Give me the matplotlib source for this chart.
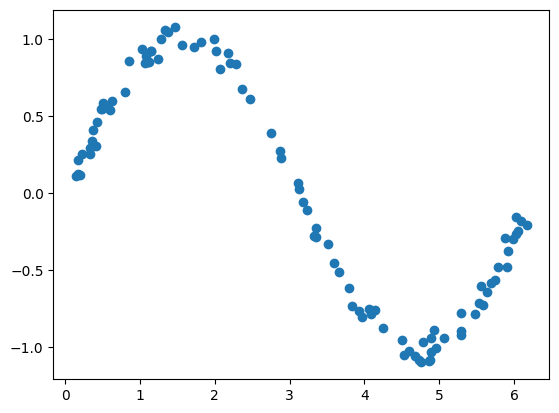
import matplotlib
matplotlib.use("Agg")
import matplotlib.pyplot as plt

# noisy sine samples
x = [0.143, 0.174, 0.196, 0.174, 0.219, 0.33, 0.334, 0.36, 0.41, 0.374,
     0.427, 0.477, 0.508, 0.553, 0.597, 0.62, 0.486, 0.797, 0.855, 1.028,
     1.064, 1.087, 1.108, 1.12, 1.144, 1.153, 1.24, 1.282, 1.34, 1.375,
     1.474, 1.562, 1.728, 1.81, 1.99, 2.012, 2.065, 2.18, 2.2, 2.28,
     2.365, 2.475, 2.746, 2.866, 2.884, 3.11, 3.125, 3.174, 3.23, 3.35,
     3.33, 3.356, 3.51, 3.588, 3.658, 3.79, 3.83, 3.925, 3.97, 4.06,
     4.09, 4.14, 4.245, 4.505, 4.535, 4.6, 4.68, 4.73, 4.758, 4.78,
     4.86, 4.88, 4.89, 4.89, 4.927, 4.95, 5.07, 5.297, 5.297, 5.297,
     5.474, 5.537, 5.59, 5.56, 5.64, 5.69, 5.74, 5.79, 5.9, 5.915,
     5.885, 5.98, 6.03, 6.05, 6.02, 6.09, 6.17]
y = [0.11, 0.127, 0.116, 0.218, 0.257, 0.257, 0.295, 0.338, 0.31, 0.412,
     0.465, 0.551, 0.59, 0.569, 0.541, 0.597, 0.547, 0.659, 0.86, 0.935,
     0.849, 0.892, 0.855, 0.853, 0.924, 0.924, 0.873, 1.0, 1.064, 1.047,
     1.08, 0.963, 0.948, 0.985, 1.004, 0.924, 0.81, 0.913, 0.849, 0.838,
     0.679, 0.614, 0.39, 0.273, 0.231, 0.069, 0.03, -0.058, -0.11, -0.224,
     -0.278, -0.282, -0.33, -0.455, -0.513, -0.616, -0.73, -0.761, -0.8, -0.752,
     -0.782, -0.756, -0.875, -0.95, -1.047, -1.021, -1.058, -1.08, -1.097, -0.963,
     -1.09, -1.08, -1.032, -0.94, -0.89, -1.004, -0.94, -0.778, -0.896, -0.918,
     -0.782, -0.713, -0.724, -0.601, -0.638, -0.584, -0.562, -0.476, -0.476, -0.375,
     -0.293, -0.297, -0.261, -0.246, -0.153, -0.179, -0.207]

fig = plt.figure(figsize=(5.59, 4.13), dpi=100)
ax = fig.add_axes([0.0954, 0.0823, 0.8873, 0.8927])
ax.scatter(x, y)

fig.savefig("out.png", dpi=100)
